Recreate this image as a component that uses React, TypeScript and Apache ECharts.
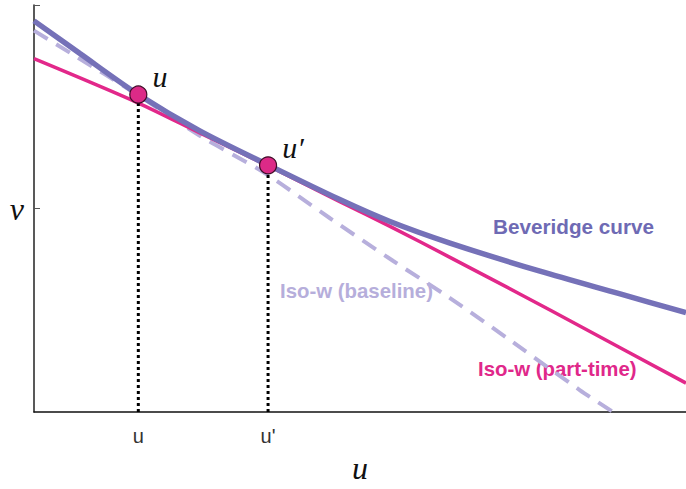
import React, { useEffect, useRef } from "react";
import * as echarts from "echarts";

// Beveridge curve (u, v)
const bevU = [0, 7.1, 16.0, 25.5, 35.9, 46.9, 54.6, 63.8, 77.6, 89.9, 100];
const bevV = [96.1, 88.0, 78.0, 69.0, 60.7, 52.2, 46.8, 41.5, 34.6, 29.0, 24.4];
// Iso-w (part-time)
const partU = [0, 16.0, 25.5, 35.9, 46.9, 54.6, 63.8, 74.5, 84.2, 100];
const partV = [86.8, 75.9, 68.5, 60.5, 51.7, 45.6, 38.0, 29.0, 20.7, 7.1];
// Iso-w (baseline)
const baseU = [0, 5.5, 16.0, 25.5, 35.1, 45.4, 55.1, 63.8, 73.5, 83.7, 88.8];
const baseV = [93.7, 88.3, 77.8, 67.8, 59.0, 47.6, 37.1, 28.0, 17.1, 5.4, 0];
// equilibrium points
const pointNames = ["u", "u\u2032"];
const pointU = [16.0, 35.9];
const pointV = [78.0, 60.6];
// tick labels
const xTickValues = [16.0, 35.9];
const xTickLabels = ["u", "u'"];
const yTickValues = [50];
const yTickLabels = ["v"];

const BEV = "#7571b8";
const PINK = "#e2288a";
const BASE = "#b7afdc";
const MATH_FONT = "'Liberation Serif', 'DejaVu Serif', serif";
const SANS = "'Liberation Sans', Arial, sans-serif";

const zip = (a: number[], b: number[]) => a.map((x, i) => [x, b[i]]);

export default function App() {
  const ref = useRef<HTMLDivElement>(null);
  useEffect(() => {
    document.body.style.margin = "0";
    const chart = echarts.init(ref.current!, undefined, { renderer: "svg" });
    const xLabel = (v: number) => xTickLabels[xTickValues.indexOf(v)] ?? "";
    chart.setOption({
      animation: false,
      backgroundColor: "#ffffff",
      grid: { left: 34, right: 0, top: 5, bottom: 73 },
      xAxis: {
        type: "value",
        min: 0,
        max: 100,
        splitLine: { show: false },
        axisLine: { show: true, lineStyle: { color: "#111", width: 1.5 } },
        axisTick: { show: false },
        axisLabel: {
          customValues: xTickValues,
          formatter: (v: number) => xLabel(v),
          fontFamily: SANS,
          fontSize: 20,
          color: "#333",
          margin: 14,
        },
        name: "u",
        nameLocation: "middle",
        nameGap: 40,
        nameTextStyle: { fontFamily: MATH_FONT, fontStyle: "italic", fontSize: 32, color: "#111" },
      },
      yAxis: {
        type: "value",
        min: 0,
        max: 100,
        splitLine: { show: false },
        axisLine: { show: true, lineStyle: { color: "#222", width: 1.5 } },
        axisTick: {
          show: true,
          inside: true,
          length: 6,
          customValues: [...yTickValues, 100],
          lineStyle: { color: "#555", width: 1 },
        },
        axisLabel: {
          customValues: yTickValues,
          formatter: (v: number) => yTickLabels[yTickValues.indexOf(v)] ?? "",
          fontFamily: MATH_FONT,
          fontStyle: "italic",
          fontSize: 32,
          color: "#111",
          margin: 10,
        },
      },
      series: [
        {
          type: "line",
          data: zip(baseU, baseV),
          smooth: 0.3,
          showSymbol: false,
          lineStyle: { color: BASE, width: 4, type: [16, 10] },
          z: 1,
        },
        {
          type: "line",
          data: zip(partU, partV),
          smooth: 0.3,
          showSymbol: false,
          lineStyle: { color: PINK, width: 3.5 },
          z: 2,
        },
        {
          type: "line",
          data: zip(bevU, bevV),
          smooth: 0.3,
          showSymbol: false,
          lineStyle: { color: BEV, width: 5.5 },
          z: 3,
        },
        ...pointU.map((u, i) => ({
          type: "line",
          data: [[u, 0], [u, pointV[i]]],
          showSymbol: false,
          lineStyle: { color: "#000", width: 3, type: [3, 3] },
          z: 4,
        })),
        {
          type: "scatter",
          data: zip(pointU, pointV).map((d, i) => ({ value: d, name: pointNames[i] })),
          symbol: "circle",
          symbolSize: 17,
          itemStyle: { color: "#dc2a87", borderColor: "#3d0c26", borderWidth: 1.2, opacity: 1 },
          label: {
            show: true,
            position: "right",
            distance: 5,
            offset: [0, -18],
            formatter: (p: any) => p.name,
            fontFamily: MATH_FONT,
            fontStyle: "italic",
            fontSize: 30,
            color: "#111",
          },
          z: 5,
        },
      ],
      graphic: [
        {
          type: "text",
          x: 493,
          y: 226,
          style: { text: "Beveridge curve", fill: "#6e6ab4", font: `bold 20.7px ${SANS}`, verticalAlign: "middle" },
        },
        {
          type: "text",
          x: 280,
          y: 291,
          style: { text: "Iso-w (baseline)", fill: "#b6aedb", font: `bold 20.4px ${SANS}`, verticalAlign: "middle" },
        },
        {
          type: "text",
          x: 478,
          y: 369,
          style: { text: "Iso-w (part-time)", fill: "#e0288a", font: `bold 20.4px ${SANS}`, verticalAlign: "middle" },
        },
      ],
    });
    return () => chart.dispose();
  }, []);
  return <div ref={ref} style={{ width: 686, height: 489 }} />;
}
